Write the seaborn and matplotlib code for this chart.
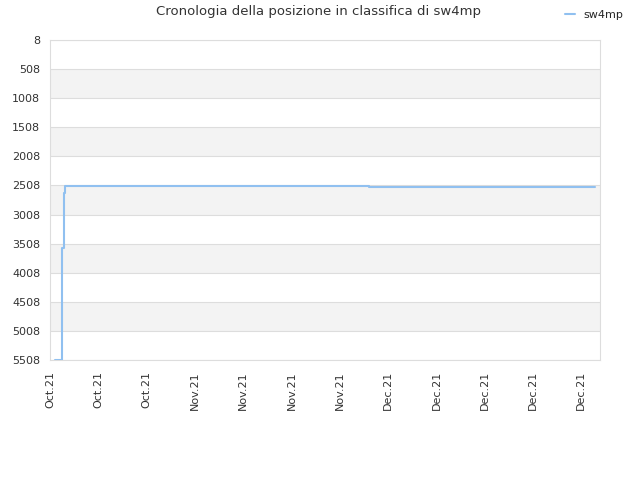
import matplotlib
matplotlib.use("Agg")
import matplotlib.pyplot as plt
import matplotlib.dates as mdates
import seaborn as sns
import pandas as pd
import numpy as np

# ---- data ----
title = "Cronologia della posizione in classifica di sw4mp"
series_name = "sw4mp"
dates = pd.to_datetime([
    "2021-10-13 17:00", "2021-10-14 17:00", "2021-10-15 00:00",
    "2021-10-15 05:00", "2021-11-28 05:00", "2021-12-31 00:00",
])
ranks = [5500, 3590, 2640, 2515, 2535, 2535]
y_ticks = [8, 508, 1008, 1508, 2008, 2508, 3008, 3508, 4008, 4508, 5008, 5508]
x_start = pd.Timestamp("2021-10-13")
x_end = pd.Timestamp("2021-12-31 17:00")
tick_dates = pd.date_range("2021-10-13", periods=12, freq="7D")

df = pd.DataFrame({"date": dates, "rank": ranks, "name": series_name})

sns.set_theme(style="white")
plt.rcParams['font.family'] = ['DejaVu Sans']

fig = plt.figure(figsize=(6.4, 4.8), dpi=100)
ax = fig.add_axes([50/640, 1-360/480, 550/640, 320/480])

# alternating bands
for i in range(1, len(y_ticks) - 1, 2):
    ax.axhspan(y_ticks[i], y_ticks[i + 1], color="#f3f3f3", zorder=0, lw=0)
for yv in y_ticks:
    ax.axhline(yv, color="#dddddd", lw=0.8, zorder=1)

sns.lineplot(data=df, x="date", y="rank", ax=ax, color="#90c0f0", lw=1.5,
             drawstyle="steps-post", label=series_name, legend=False, zorder=3)

ax.set_ylim(y_ticks[-1], y_ticks[0])
ax.set_yticks(y_ticks)
ax.set_yticklabels([str(v) for v in y_ticks])
ax.set_xlim(x_start, x_end)
ax.set_xticks(tick_dates)
ax.xaxis.set_major_formatter(mdates.DateFormatter("%b.%y"))
plt.setp(ax.get_xticklabels(), rotation=90)
ax.tick_params(axis="both", labelsize=8, colors="#333333", length=0)
ax.tick_params(axis="y", pad=7)
ax.tick_params(axis="x", pad=8)
ax.set_xlabel("")
ax.set_ylabel("")
for s in ax.spines.values():
    s.set_color("#dddddd")
    s.set_linewidth(0.8)

fig.text(318/640, 1-12/480, title, ha="center", va="center", fontsize=9.5, color="#333333")
handles, labels = ax.get_legend_handles_labels()
fig.legend(handles, labels, loc="center left", bbox_to_anchor=(561/640, 1-15/480),
           frameon=False, fontsize=8, handlelength=0.9, handletextpad=0.7,
           borderaxespad=0)

fig.savefig("out.png", dpi=100)
